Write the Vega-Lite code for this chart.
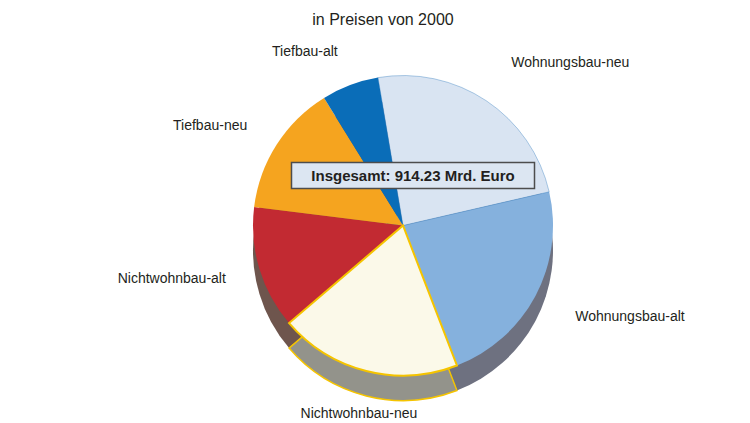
{
  "$schema": "https://vega.github.io/schema/vega-lite/v6.json",
  "width": 750,
  "height": 423,
  "autosize": {"type": "fit", "contains": "padding"},
  "padding": {"left": 16, "right": 0, "top": 12, "bottom": 4},
  "background": "white",
  "config": {"view": {"stroke": null}, "font": "Liberation Sans"},
  "title": {"text": "in Preisen von 2000", "fontSize": 16, "fontWeight": "normal", "color": "#231f20", "font": "Liberation Sans", "offset": 4},
  "data": {"values": [
    {"Bereich": "Wohnungsbau-neu", "Wert": 220, "Nr": 1},
    {"Bereich": "Wohnungsbau-alt", "Wert": 208, "Nr": 2},
    {"Bereich": "Nichtwohnbau-neu", "Wert": 179, "Nr": 3},
    {"Bereich": "Nichtwohnbau-alt", "Wert": 121, "Nr": 4},
    {"Bereich": "Tiefbau-neu", "Wert": 130, "Nr": 5},
    {"Bereich": "Tiefbau-alt", "Wert": 56.23, "Nr": 6}
  ]},
  "layer": [
    {
      "mark": {"type": "arc", "outerRadius": 150, "xOffset": 20, "yOffset": 25},
      "encoding": {
        "theta": {"field": "Wert", "type": "quantitative", "stack": true, "scale": {"range": [-0.1676, 6.1156]}},
        "order": {"field": "Nr", "type": "quantitative"},
        "detail": {"field": "Bereich", "type": "nominal"},
        "fill": {"field": "Bereich", "type": "nominal", "legend": null,
          "scale": {"domain": ["Wohnungsbau-neu", "Wohnungsbau-alt", "Nichtwohnbau-neu", "Nichtwohnbau-alt", "Tiefbau-neu", "Tiefbau-alt"],
                    "range": ["#8f9bb0", "#6e7180", "#93938b", "#6e554d", "#9c7a3c", "#3f5e80"]}}
      }
    },
    {
      "mark": {"type": "arc", "outerRadius": 150, "xOffset": 20, "yOffset": 25, "filled": false, "stroke": "#f5c400", "strokeWidth": 1.5},
      "encoding": {
        "theta": {"field": "Wert", "type": "quantitative", "stack": true},
        "order": {"field": "Nr", "type": "quantitative"},
        "detail": {"field": "Bereich", "type": "nominal"},
        "strokeOpacity": {"condition": {"test": "datum.Bereich === 'Nichtwohnbau-neu'", "value": 1}, "value": 0}
      }
    },
    {
      "mark": {"type": "arc", "outerRadius": 150, "xOffset": 20},
      "encoding": {
        "theta": {"field": "Wert", "type": "quantitative", "stack": true},
        "order": {"field": "Nr", "type": "quantitative"},
        "detail": {"field": "Bereich", "type": "nominal"},
        "color": {"field": "Bereich", "type": "nominal", "legend": null,
          "scale": {"domain": ["Wohnungsbau-neu", "Wohnungsbau-alt", "Nichtwohnbau-neu", "Nichtwohnbau-alt", "Tiefbau-neu", "Tiefbau-alt"],
                    "range": ["#d9e4f2", "#85b1dd", "#fbf9e9", "#c22a32", "#f5a41f", "#0a6db8"]}}
      }
    },
    {
      "mark": {"type": "arc", "outerRadius": 150, "xOffset": 20, "filled": false, "stroke": "#1f6fb8", "strokeWidth": 1},
      "encoding": {
        "theta": {"field": "Wert", "type": "quantitative", "stack": true},
        "order": {"field": "Nr", "type": "quantitative"},
        "detail": {"field": "Bereich", "type": "nominal"},
        "strokeOpacity": {"condition": {"test": "datum.Bereich === 'Wohnungsbau-neu'", "value": 0.35}, "value": 0}
      }
    },
    {
      "mark": {"type": "arc", "outerRadius": 150, "xOffset": 20, "filled": false, "stroke": "#f5c400", "strokeWidth": 2},
      "encoding": {
        "theta": {"field": "Wert", "type": "quantitative", "stack": true},
        "order": {"field": "Nr", "type": "quantitative"},
        "detail": {"field": "Bereich", "type": "nominal"},
        "strokeOpacity": {"condition": {"test": "datum.Bereich === 'Nichtwohnbau-neu'", "value": 1}, "value": 0}
      }
    },
    {
      "mark": {"type": "text", "radius": 195, "align": "left", "baseline": "middle", "fontSize": 14, "color": "#231f20", "xOffset": 20},
      "encoding": {
        "theta": {"field": "Wert", "type": "quantitative", "stack": true},
        "order": {"field": "Nr", "type": "quantitative"},
        "detail": {"field": "Bereich", "type": "nominal"},
        "text": {"condition": {"test": "indexof(['Wohnungsbau-neu','Wohnungsbau-alt'], datum.Bereich) >= 0", "field": "Bereich"}, "value": ""}
      }
    },
    {
      "mark": {"type": "text", "radius": 185, "align": "right", "baseline": "middle", "fontSize": 14, "color": "#231f20", "xOffset": 20},
      "encoding": {
        "theta": {"field": "Wert", "type": "quantitative", "stack": true},
        "order": {"field": "Nr", "type": "quantitative"},
        "detail": {"field": "Bereich", "type": "nominal"},
        "text": {"condition": {"test": "indexof(['Nichtwohnbau-alt','Tiefbau-neu','Tiefbau-alt'], datum.Bereich) >= 0", "field": "Bereich"}, "value": ""}
      }
    },
    {
      "mark": {"type": "text", "radius": 180, "align": "center", "baseline": "middle", "fontSize": 14, "color": "#231f20", "xOffset": 20, "yOffset": 14},
      "encoding": {
        "theta": {"field": "Wert", "type": "quantitative", "stack": true},
        "order": {"field": "Nr", "type": "quantitative"},
        "detail": {"field": "Bereich", "type": "nominal"},
        "text": {"condition": {"test": "datum.Bereich === 'Nichtwohnbau-neu'", "field": "Bereich"}, "value": ""}
      }
    },
    {
      "data": {"values": [{"Label": "Insgesamt: 914.23 Mrd. Euro"}]},
      "mark": {"type": "point", "shape": "M-1,-0.107L1,-0.107L1,0.107L-1,0.107Z", "size": 59049, "filled": true, "fill": "#dce6f2", "stroke": "#4d4d4d", "strokeWidth": 1.5, "opacity": 1, "xOffset": 30, "yOffset": -50},
      "encoding": {}
    },
    {
      "data": {"values": [{"Label": "Insgesamt: 914.23 Mrd. Euro"}]},
      "mark": {"type": "text", "fontSize": 15, "fontWeight": "bold", "color": "#231f20", "align": "center", "baseline": "middle", "xOffset": 30, "yOffset": -50},
      "encoding": {"text": {"field": "Label", "type": "nominal"}}
    }
  ]
}
